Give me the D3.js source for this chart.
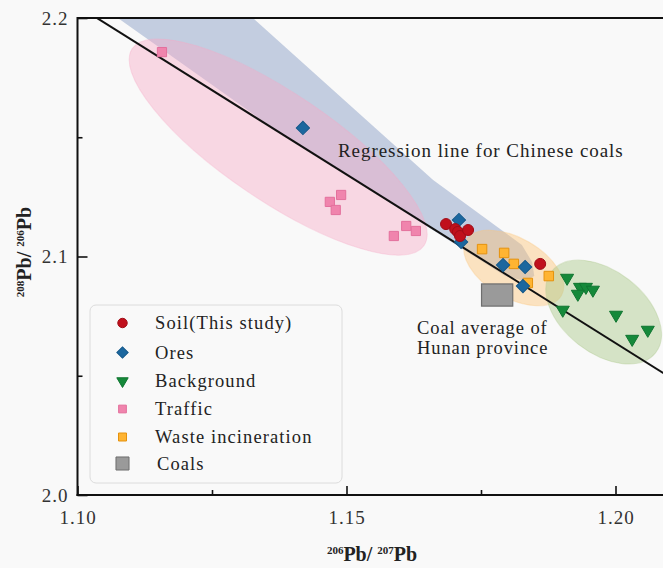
<!DOCTYPE html>
<html>
<head>
<meta charset="utf-8">
<script src="https://cdn.jsdelivr.net/npm/d3@7"></script>
<style>
  html, body { margin: 0; padding: 0; background: #f9f9f9; }
  svg { display: block; font-family: "Liberation Serif", "Times New Roman", serif; }
</style>
</head>
<body>
<svg id="chart" width="663" height="568"></svg>
<script>
// 206Pb/207Pb (x) versus 208Pb/206Pb (y) for each source group
const soil = [[1.1685, 2.1136], [1.1702, 2.1115], [1.1707, 2.1103], [1.1711, 2.1086], [1.1726, 2.1111], [1.1860, 2.0969]];
const ores = [[1.1419, 2.1539], [1.1709, 2.1153], [1.1713, 2.1061], [1.1791, 2.0964], [1.1832, 2.0956], [1.1828, 2.0876]];
const background = [[1.1910, 2.0910], [1.1934, 2.0872], [1.1945, 2.0872], [1.1958, 2.0860], [1.1930, 2.0843],
                    [1.1902, 2.0776], [1.2001, 2.0755], [1.2060, 2.0692], [1.2031, 2.0654]];
const traffic = [[1.1157, 2.1857], [1.1469, 2.1229], [1.1480, 2.1195], [1.1490, 2.1258], [1.1588, 2.1086], [1.1611, 2.1128], [1.1629, 2.1107]];
const waste = [[1.1752, 2.1031], [1.1793, 2.1015], [1.1811, 2.0969], [1.1837, 2.0889], [1.1876, 2.0918]];

// Hunan coal average, drawn as its x / y range
const coalX = [1.1751, 1.1809];
const coalY = [2.0792, 2.0885];

// Regression line for Chinese coals: y = a + b·x
const regression = [3.7605, -1.414];

// Ore field outline
const oreField = [[1.1075, 2.2000], [1.1326, 2.2000], [1.1661, 2.1321], [1.1826, 2.1048], [1.1845, 2.0977],
                  [1.1849, 2.0918], [1.1832, 2.0897], [1.1795, 2.0918], [1.1371, 2.1526]];

// Centres of the source-group fields
const trafficCentre = [1.1373, 2.1459];
const wasteCentre = [1.1811, 2.0952];
const backgroundCentre = [1.1978, 2.0767];

// Axis ticks
const xMajor = [1.10, 1.15, 1.20];
const xMinor = [1.125, 1.175];
const yMajor = [2.0, 2.1, 2.2];
const yMinor = [2.05, 2.15];

const legendItems = ["Soil(This study)", "Ores", "Background", "Traffic", "Waste incineration", "Coals"];

const svg = d3.select("#chart");
const W = 663, H = 568;
const plotLeft = 77.5, plotTop = 18, plotBottom = 495;

const x = d3.scaleLinear().domain([1.10, 1.21]).range([plotLeft, plotLeft + 0.11 * 5380]);
const y = d3.scaleLinear().domain([2.0, 2.2]).range([plotBottom, plotTop]);

svg.append("rect").attr("width", W).attr("height", H).attr("fill", "#f9f9f9");

svg.append("defs").append("clipPath").attr("id", "plot")
  .append("rect").attr("x", plotLeft).attr("y", plotTop).attr("width", W - plotLeft).attr("height", plotBottom - plotTop);

const plot = svg.append("g").attr("clip-path", "url(#plot)");

// Shaded fields
const fieldLine = d3.line().x(d => x(d[0])).y(d => y(d[1])).curve(d3.curveLinearClosed);
plot.append("path").attr("d", fieldLine(oreField))
  .attr("fill", "#8ea2c8").attr("fill-opacity", 0.5);

function field(c, rx, ry, angle, fill, op) {
  plot.append("ellipse")
    .attr("transform", `translate(${x(c[0])},${y(c[1])}) rotate(${angle})`)
    .attr("rx", rx).attr("ry", ry)
    .attr("fill", fill).attr("fill-opacity", op)
    .attr("stroke", fill).attr("stroke-opacity", 0.35).attr("stroke-width", 1);
}
field(trafficCentre, 176, 54, 34, "#f7a9c6", 0.42);
field(wasteCentre, 55, 30, 30, "#fcc57a", 0.45);
field(backgroundCentre, 66, 41, 38, "#a9c787", 0.45);

// Regression line
const xr = [1.09, 1.22];
plot.append("line")
  .attr("x1", x(xr[0])).attr("y1", y(regression[0] + regression[1] * xr[0]))
  .attr("x2", x(xr[1])).attr("y2", y(regression[0] + regression[1] * xr[1]))
  .attr("stroke", "#111").attr("stroke-width", 2);

// Marker shapes
const downTriangle = {
  draw(ctx, size) {
    const w = Math.sqrt(size), h = w * 0.85;
    ctx.moveTo(-w / 2, -h / 3); ctx.lineTo(w / 2, -h / 3); ctx.lineTo(0, 2 * h / 3); ctx.closePath();
  }
};

const styles = {
  soil:       { type: d3.symbolCircle, size: 95,  rot: 0,  fill: "#c0101c", stroke: "#a00c16" },
  ores:       { type: d3.symbolSquare, size: 88,  rot: 45, fill: "#1b679f", stroke: "#14588a" },
  background: { type: downTriangle,    size: 170, rot: 0,  fill: "#15893a", stroke: "#0f7530" },
  traffic:    { type: d3.symbolSquare, size: 85,  rot: 0,  fill: "#f084ad", stroke: "#e3709c" },
  waste:      { type: d3.symbolSquare, size: 90,  rot: 0,  fill: "#ffb432", stroke: "#e5920e" }
};

function points(data, s) {
  plot.append("g").selectAll("path").data(data).join("path")
    .attr("d", d3.symbol().type(s.type).size(s.size))
    .attr("transform", d => `translate(${x(d[0])},${y(d[1])}) rotate(${s.rot})`)
    .attr("fill", s.fill).attr("stroke", s.stroke).attr("stroke-width", 1);
}
points(traffic, styles.traffic);
points(waste, styles.waste);
points(background, styles.background);
points(ores, styles.ores);
points(soil, styles.soil);

// Coal average box
plot.append("rect")
  .attr("x", x(coalX[0])).attr("y", y(coalY[1]))
  .attr("width", x(coalX[1]) - x(coalX[0])).attr("height", y(coalY[0]) - y(coalY[1]))
  .attr("fill", "#9a9a9a").attr("stroke", "#6e6e6e").attr("stroke-width", 1.2);

// Frame and axes
svg.append("line").attr("x1", plotLeft).attr("x2", W).attr("y1", plotTop).attr("y2", plotTop)
  .attr("stroke", "#111").attr("stroke-width", 1.8);

const axisText = "#333";
const gx = svg.append("g").attr("transform", `translate(0,${plotBottom})`);
gx.call(d3.axisBottom(x).tickValues(xMajor).tickSize(-9).tickFormat(d3.format(".2f")).tickPadding(16));
gx.append("g").call(d3.axisBottom(x).tickValues(xMinor).tickSize(-5).tickFormat(""));
gx.selectAll(".domain").remove();
gx.append("line").attr("x1", plotLeft - 1).attr("x2", W).attr("stroke", "#111").attr("stroke-width", 2);

const gy = svg.append("g").attr("transform", `translate(${plotLeft},0)`);
gy.call(d3.axisLeft(y).tickValues(yMajor).tickSize(-10).tickFormat(d3.format(".1f")).tickPadding(9));
gy.append("g").call(d3.axisLeft(y).tickValues(yMinor).tickSize(-5).tickFormat(""));
gy.selectAll(".domain").remove();
gy.append("line").attr("y1", plotTop - 1).attr("y2", plotBottom + 1).attr("stroke", "#111").attr("stroke-width", 2);

svg.selectAll(".tick line").attr("stroke", "#111").attr("stroke-width", 1.6);
svg.selectAll(".tick text")
  .attr("font-family", "Liberation Serif, serif").attr("font-size", 19)
  .attr("letter-spacing", 1).attr("fill", axisText);

// Axis titles with isotope superscripts
function isotopeTitle(sel, a, b) {
  sel.attr("font-weight", "bold").attr("fill", "#222");
  sel.append("tspan").attr("font-size", 11).attr("dy", -7).text(a);
  sel.append("tspan").attr("font-size", 20).attr("dy", 7).text("Pb/ ");
  sel.append("tspan").attr("font-size", 11).attr("dy", -7).text(b);
  sel.append("tspan").attr("font-size", 20).attr("dy", 7).text("Pb");
}
isotopeTitle(svg.append("text").attr("x", 372).attr("y", 561).attr("text-anchor", "middle"), "206", "207");
isotopeTitle(svg.append("text").attr("transform", "translate(31,252) rotate(-90)").attr("text-anchor", "middle"), "208", "206");

// Annotations
svg.append("text").attr("x", 338).attr("y", 157).attr("font-size", 19).attr("letter-spacing", 0.95)
  .attr("fill", "#222").text("Regression line for Chinese coals");
const coalNote = svg.append("text").attr("font-size", 18.5).attr("letter-spacing", 0.9).attr("fill", "#222");
coalNote.append("tspan").attr("x", 417).attr("y", 334).text("Coal average of");
coalNote.append("tspan").attr("x", 417).attr("y", 354).text("Hunan province");

// Legend
const legend = svg.append("g");
legend.append("rect").attr("x", 90).attr("y", 305).attr("width", 252).attr("height", 178).attr("rx", 6)
  .attr("fill", "none").attr("stroke", "#dcdcdc").attr("stroke-width", 1);

const legendSymbols = [
  { type: d3.symbolCircle, size: 70,  rot: 0,  fill: styles.soil.fill, stroke: styles.soil.stroke },
  { type: d3.symbolSquare, size: 64,  rot: 45, fill: styles.ores.fill, stroke: styles.ores.stroke },
  { type: downTriangle,    size: 130, rot: 0,  fill: styles.background.fill, stroke: styles.background.stroke },
  { type: d3.symbolSquare, size: 60,  rot: 0,  fill: styles.traffic.fill, stroke: styles.traffic.stroke },
  { type: d3.symbolSquare, size: 64,  rot: 0,  fill: styles.waste.fill, stroke: styles.waste.stroke },
  { type: d3.symbolSquare, size: 170, rot: 0,  fill: "#9a9a9a", stroke: "#6e6e6e" }
];
const rowY = [323, 352.5, 381, 409, 437, 463.5];
legendItems.forEach((name, i) => {
  const s = legendSymbols[i];
  legend.append("path")
    .attr("d", d3.symbol().type(s.type).size(s.size))
    .attr("transform", `translate(122.5,${rowY[i]}) rotate(${s.rot})`)
    .attr("fill", s.fill).attr("stroke", s.stroke).attr("stroke-width", 1);
  legend.append("text").attr("x", i === 5 ? 157 : 155).attr("y", rowY[i] + 6)
    .attr("font-size", 18.5).attr("letter-spacing", 1.1).attr("fill", "#222").text(name);
});
</script>
</body>
</html>
